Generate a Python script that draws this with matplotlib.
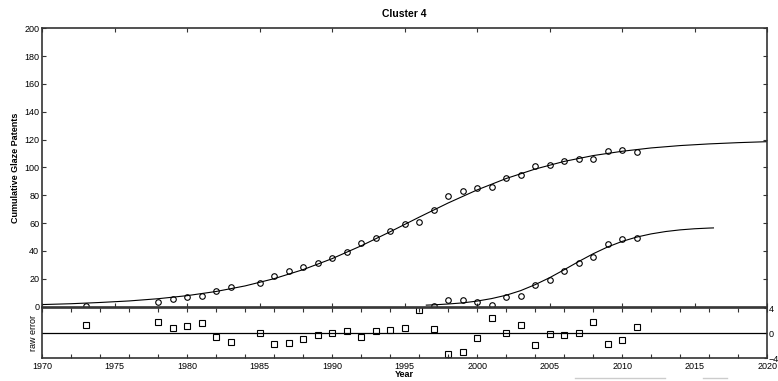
import matplotlib
matplotlib.use("Agg")
import matplotlib.pyplot as plt
from matplotlib.lines import Line2D
from matplotlib.ticker import MultipleLocator

plt.rcParams['font.family'] = ['Liberation Sans', 'DejaVu Sans']

# observed cumulative patents, first group
years_a = [1973, 1978, 1979, 1980, 1981, 1982, 1983, 1985, 1986, 1987, 1988, 1989,
           1990, 1991, 1992, 1993, 1994, 1995, 1996, 1997, 1998, 1999, 2000, 2001,
           2002, 2003, 2004, 2005, 2006, 2007, 2008, 2009, 2010, 2011]
patents_a = [0.2, 3.4, 5.5, 6.5, 7.4, 11.2, 14.1, 17.2, 22.2, 25.3, 28.2, 31.3,
             35.1, 39.4, 45.4, 49.2, 54.0, 59.3, 60.9, 69.5, 79.1, 83.4, 85.5, 86.2,
             92.7, 94.6, 101.3, 102.0, 104.9, 106.3, 106.3, 112.0, 112.5, 111.3]

# fitted curve, first group (read every 2 years)
fit_years_a = list(range(1970, 2021, 2))
fit_a = [1.4, 2.0, 2.9, 4.0, 5.6, 7.8, 10.8, 14.8, 20.0, 26.5, 34.4, 43.6, 53.7,
         64.2, 74.4, 83.8, 92.0, 98.8, 104.3, 108.5, 111.6, 114.0, 115.7, 116.9,
         117.8, 118.5]

# observed cumulative patents, second group
years_b = [1997, 1998, 1999, 2000, 2001, 2002, 2003, 2004, 2005, 2006, 2007, 2008,
           2009, 2010, 2011]
patents_b = [0.3, 4.5, 4.5, 3.3, 1.2, 6.7, 7.9, 15.8, 19.1, 25.6, 31.3, 35.8,
             45.2, 48.5, 49.5]

# fitted curve, second group
fit_years_b = [1996.5, 1997, 1998, 1999, 2000, 2001, 2002, 2003, 2004, 2005, 2006,
               2007, 2008, 2009, 2010, 2011, 2012, 2013, 2014, 2015, 2016, 2016.3]
fit_b = [1.0, 1.2, 1.8, 2.6, 3.9, 5.7, 8.1, 11.4, 15.7, 20.7, 26.4, 32.3, 37.9,
         42.8, 46.8, 49.9, 52.2, 53.9, 55.1, 55.9, 56.4, 56.5]

# raw error of both groups
err_years = [1973, 1978, 1979, 1980, 1981, 1982, 1983, 1985, 1986, 1987, 1988, 1989,
             1990, 1991, 1992, 1993, 1994, 1995, 1996, 1997, 1998, 1999, 2000, 2001,
             2002, 2003, 2004, 2005, 2006, 2007, 2008, 2009, 2010, 2011]
raw_error = [1.33, 1.8, 0.9, 1.13, 1.6, -0.5, -1.44, 0.08, -1.75, -1.54, -0.97, -0.29,
             0.0, 0.4, -0.55, 0.34, 0.5, 0.8, 3.8, 0.65, -3.3, -3.0, -0.7, 2.54,
             0.0, 1.33, -1.85, -0.08, -0.29, 0.08, 1.85, -1.65, -1.07, 1.02]

fig = plt.figure(figsize=(7.78, 3.81), dpi=100)
ax = fig.add_axes([0.054, 0.1955, 0.932, 0.7302])
ax2 = fig.add_axes([0.054, 0.0596, 0.932, 0.1307])

spine_col = '#333333'
fs = 6.5

# top panel
ax.plot(fit_years_a, fit_a, color='black', lw=0.8)
ax.plot(fit_years_b, fit_b, color='black', lw=0.8)
ax.plot(years_a, patents_a, 'o', ms=4, mfc='none', mec='black', mew=0.8)
ax.plot(years_b, patents_b, 'o', ms=4, mfc='none', mec='black', mew=0.8)
ax.set_xlim(1970, 2020)
ax.set_ylim(0, 200)
ax.xaxis.set_major_locator(MultipleLocator(5))
ax.yaxis.set_major_locator(MultipleLocator(20))
ax.tick_params(axis='x', direction='in', top=True, bottom=True, labelbottom=False,
               length=3, width=0.8, color=spine_col)
ax.tick_params(axis='y', direction='in', left=True, right=True, length=3,
               width=0.8, color=spine_col, labelsize=fs, pad=2)
ax.set_ylabel('Cumulative Glaze Patents', fontsize=fs, fontweight='bold', labelpad=3)
ax.set_title('Cluster 4', fontsize=7.5, fontweight='bold', pad=8)

# bottom panel
ax2.axhline(0, color='black', lw=0.9)
ax2.plot(err_years, raw_error, 's', ms=4, mfc='none', mec='black', mew=0.8)
ax2.set_xlim(1970, 2020)
ax2.set_ylim(-4, 4)
ax2.set_yticks([-4, 0, 4])
ax2.yaxis.tick_right()
ax2.tick_params(axis='y', direction='in', length=2, width=0.8, color=spine_col,
                labelsize=fs, pad=1)
ax2.xaxis.set_major_locator(MultipleLocator(5))
ax2.xaxis.set_minor_locator(MultipleLocator(2))
ax2.xaxis.remove_overlapping_locs = False
ax2.tick_params(axis='x', which='major', length=0, labelsize=fs, pad=3)
ax2.tick_params(axis='x', which='minor', direction='in', top=True, bottom=True,
                length=3, width=0.8, color=spine_col)
ax2.set_ylabel('raw error', fontsize=fs, labelpad=3)
ax2.set_xlabel('Year', fontsize=fs, fontweight='bold', labelpad=-1)

for a in (ax, ax2):
    for s in a.spines.values():
        s.set_color(spine_col)
        s.set_linewidth(1.2)

# faint grey marks under the plot in the screenshot
fig.add_artist(Line2D([575 / 778, 665 / 778], [3 / 381, 3 / 381], color='#cccccc', lw=1))
fig.add_artist(Line2D([703 / 778, 727 / 778], [3 / 381, 3 / 381], color='#cccccc', lw=1))

fig.savefig('out.png', dpi=100)
